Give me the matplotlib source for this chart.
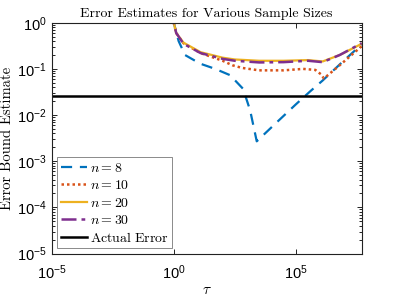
import numpy as np
import matplotlib
matplotlib.use("Agg")
import matplotlib.pyplot as plt
from matplotlib.ticker import LogLocator, NullLocator, NullFormatter

plt.rcParams['mathtext.fontset'] = 'cm'
plt.rcParams['font.family'] = ['Liberation Sans', 'DejaVu Sans']

# data: log10(tau) and estimates
lt8 = [-0.1, 0.0, 0.2, 0.46, 1.08, 1.7, 2.31, 2.84, 3.13, 3.4, 4.2, 5.0, 5.6, 6.1, 6.9, 7.7]
v8 = [3.0, 1.0, 0.4, 0.2, 0.13, 0.1, 0.073, 0.037, 0.0126, 0.0027, 0.0068, 0.017, 0.033, 0.056, 0.14, 0.34]

lt10 = [-0.1, 0.0, 0.1, 0.4, 1.1, 2.0, 2.4, 2.8, 3.5, 4.5, 5.3, 5.8, 6.05, 6.15, 6.8, 7.7]
v10 = [3.0, 1.0, 0.6, 0.36, 0.22, 0.15, 0.12, 0.105, 0.093, 0.093, 0.1, 0.095, 0.075, 0.062, 0.12, 0.31]

lt20 = [-0.1, 0.0, 0.1, 0.4, 1.1, 2.0, 2.5, 3.5, 4.5, 5.5, 6.1, 6.8, 7.7]
v20 = [3.0, 1.0, 0.6, 0.37, 0.23, 0.175, 0.16, 0.15, 0.15, 0.155, 0.145, 0.2, 0.35]

lt30 = [-0.1, 0.0, 0.1, 0.4, 1.1, 2.0, 2.5, 3.5, 4.5, 5.5, 6.1, 6.8, 7.7]
v30 = [3.0, 1.0, 0.6, 0.35, 0.22, 0.165, 0.15, 0.138, 0.14, 0.15, 0.14, 0.2, 0.36]

actual_error = 0.0255
labels = [r'$n = 8$', r'$n = 10$', r'$n = 20$', r'$n = 30$', r'$\mathrm{Actual\ Error}$']

fig = plt.figure(figsize=(3.99, 2.99), dpi=100)
ax = fig.add_axes([0.1296, 0.152, 0.7769, 0.772])

ax.plot(10.0 ** np.array(lt8), v8, color='#0072BD', ls=(0, (5, 3.5)), lw=1.6, label=labels[0])
ax.plot(10.0 ** np.array(lt10), v10, color='#D95319', ls=(0, (1, 1.2)), lw=1.8, label=labels[1])
ax.plot(10.0 ** np.array(lt20), v20, color='#EDB120', ls='-', lw=1.6, label=labels[2])
ax.plot(10.0 ** np.array(lt30), v30, color='#7E2F8E', ls=(0, (6, 2, 1.5, 2)), lw=1.8, label=labels[3])
ax.axhline(actual_error, color='black', lw=1.8, label=labels[4])

ax.set_xscale('log')
ax.set_yscale('log')
ax.set_xlim(1e-5, 10 ** 7.7)
ax.set_ylim(1e-5, 1)
ax.set_xticks([1e-5, 1e0, 1e5])
ax.xaxis.set_minor_locator(NullLocator())
ax.yaxis.set_major_locator(LogLocator(base=10, numticks=20))
ax.yaxis.set_minor_locator(LogLocator(base=10, subs=np.arange(2, 10), numticks=20))
ax.yaxis.set_minor_formatter(NullFormatter())
ax.tick_params(which='both', direction='in', top=True, right=True, labelsize=10.5, width=0.6)
ax.tick_params(which='major', length=3.5)
ax.tick_params(which='minor', length=2)
ax.tick_params(axis='x', pad=7)
for s in ax.spines.values():
    s.set_linewidth(0.8)
    s.set_color('#222222')

ax.set_title('Error Estimates for Various Sample Sizes', fontfamily='cmr10', fontsize=10, pad=4)
ax.set_ylabel('Error Bound Estimate', fontfamily='cmr10', fontsize=10.5, labelpad=2)
ax.set_xlabel(r'$\tau$', fontsize=11, labelpad=1)

leg = ax.legend(loc='lower left', fontsize=10, frameon=True, fancybox=False,
                handlelength=1.9, handletextpad=0.2, labelspacing=0.25, borderpad=0.25,
                borderaxespad=0.4)
leg.get_frame().set_edgecolor('#555555')
leg.get_frame().set_linewidth(0.6)

fig.savefig('out.png', dpi=100)
